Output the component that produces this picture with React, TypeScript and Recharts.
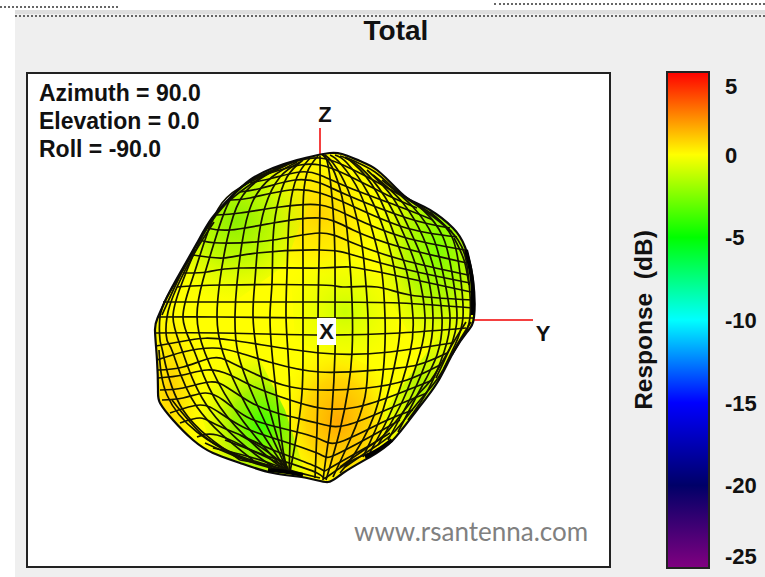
import React from 'react';
import { ScatterChart, Scatter, XAxis, YAxis, ReferenceLine, ReferenceDot, Label, BarChart, Bar } from 'recharts';

type Pair = [number, number];

// Projected view of the pattern (x right, y down)
const outline: Pair[] = [
  [318, 155], [330, 153], [342, 154], [360, 161], [377, 170], [397, 189], [410, 200], [430, 210], [453, 228], [465, 247],
  [473, 280], [474, 317], [467, 332], [453, 353], [437, 383], [417, 410], [393, 440], [370, 457], [343, 473], [328, 482],
  [307, 478], [273, 473], [240, 463], [213, 453], [193, 440], [173, 420], [160, 403], [158, 390], [157, 360], [155, 330],
  [158, 317], [167, 297], [180, 273], [197, 243], [212, 218], [230, 198], [250, 180], [273, 168], [297, 160], [318, 155],
];

const meridians: Pair[][] = [
  [[195, 250], [180, 275], [167, 297], [160, 317], [160, 340], [163, 353], [183, 410], [240, 460]],
  [[214, 222], [195, 252], [177, 287], [167, 317], [167, 340], [173, 353], [197, 407], [253, 460]],
  [[270, 172], [225, 205], [197, 247], [182, 283], [173, 317], [183, 353], [210, 410], [263, 460], [287, 470]],
  [[287, 165], [250, 182], [222, 203], [205, 240], [192, 280], [183, 318], [195, 353], [220, 407], [268, 457], [287, 470]],
  [[290, 163], [253, 180], [230, 200], [215, 240], [203, 280], [197, 315], [205, 353], [233, 407], [273, 457], [287, 470]],
  [[293, 162], [263, 177], [240, 200], [227, 240], [220, 280], [217, 315], [223, 353], [247, 407], [275, 453], [287, 470]],
  [[297, 162], [272, 177], [252, 203], [242, 243], [237, 283], [235, 315], [238, 353], [255, 400], [278, 450], [287, 470]],
  [[300, 162], [280, 177], [265, 207], [258, 243], [255, 280], [253, 315], [257, 353], [267, 400], [282, 453], [288, 470]],
  [[303, 160], [287, 177], [277, 207], [273, 240], [272, 283], [270, 315], [272, 353], [277, 400], [283, 450], [288, 470]],
  [[310, 158], [297, 177], [290, 207], [288, 240], [287, 273], [286, 315], [288, 353], [290, 400], [290, 440], [289, 472]],
  [[318, 156], [307, 173], [303, 207], [303, 260], [303, 317], [303, 353], [302, 393], [297, 433], [290, 472]],
  [[320, 156], [320, 200], [319, 260], [318, 320], [318, 380], [317, 430], [315, 478]],
  [[322, 155], [328, 165], [333, 210], [335, 260], [335, 317], [335, 353], [332, 410], [328, 443], [323, 480]],
  [[323, 155], [332, 167], [342, 197], [348, 240], [352, 300], [352, 353], [348, 390], [340, 430], [326, 480]],
  [[325, 155], [333, 163], [348, 190], [360, 233], [365, 273], [368, 317], [368, 353], [365, 397], [350, 440], [333, 477]],
  [[330, 155], [340, 163], [360, 193], [373, 233], [382, 273], [385, 317], [385, 343], [378, 403], [355, 453], [340, 473]],
  [[335, 155], [347, 163], [368, 193], [385, 233], [395, 273], [400, 317], [397, 353], [383, 410], [363, 457]],
  [[340, 156], [353, 163], [377, 193], [395, 237], [407, 273], [413, 317], [410, 353], [393, 407], [370, 452]],
  [[345, 158], [360, 167], [385, 197], [405, 237], [418, 273], [425, 317], [420, 353], [403, 400], [378, 445]],
  [[367, 170], [393, 198], [413, 237], [427, 273], [433, 317], [428, 355], [412, 395], [388, 440]],
  [[373, 175], [403, 203], [423, 237], [435, 273], [442, 317], [437, 355], [420, 390], [398, 432]],
  [[382, 180], [413, 207], [433, 237], [443, 273], [450, 317], [444, 352], [428, 390], [408, 420]],
  [[395, 190], [423, 210], [443, 237], [452, 273], [457, 317], [450, 348], [436, 378]],
  [[410, 200], [433, 215], [452, 237], [460, 273], [463, 317], [455, 345], [444, 368]],
  [[430, 212], [458, 240], [468, 273], [470, 317], [462, 338], [452, 355]],
  // dense lines along the rim
  [[300, 160], [252, 180], [214, 217], [182, 272], [162, 315]],
  [[159, 350], [167, 395], [197, 432], [240, 456], [285, 470]],
  [[172, 400], [205, 437], [245, 459], [285, 469]],
  [[205, 443], [245, 460], [283, 471]],
  [[225, 440], [255, 452], [285, 466]],
  [[240, 435], [265, 450], [288, 468]],
  [[471, 322], [454, 350], [438, 378], [416, 405], [393, 433], [370, 450], [345, 467]],
  [[466, 322], [449, 350], [431, 380], [411, 402], [387, 432], [364, 450], [340, 467]],
  [[345, 157], [375, 172], [398, 192], [428, 213], [452, 232]],
  [[469, 285], [464, 260], [454, 238]],
];

const parallels: Pair[][] = [
  [[273, 169], [297, 161], [320, 158], [343, 165], [373, 180], [400, 195]],
  [[260, 176], [280, 170], [300, 165], [320, 165], [347, 175], [387, 195], [417, 208]],
  [[250, 183], [273, 178], [300, 172], [320, 175], [350, 188], [403, 208], [433, 220]],
  [[240, 192], [262, 188], [295, 180], [320, 183], [347, 195], [407, 218], [450, 228]],
  [[230, 200], [250, 198], [290, 190], [320, 193], [350, 205], [403, 227], [457, 237]],
  [[217, 215], [240, 213], [280, 207], [320, 205], [352, 217], [403, 237], [465, 250]],
  [[207, 228], [230, 230], [273, 223], [320, 218], [353, 230], [400, 247], [467, 263]],
  [[200, 240], [220, 243], [273, 240], [320, 233], [353, 243], [403, 260], [468, 275]],
  [[193, 255], [223, 258], [257, 253], [320, 250], [353, 255], [400, 268], [470, 283]],
  [[183, 273], [207, 272], [240, 268], [320, 268], [350, 267], [393, 275], [471, 292]],
  [[177, 287], [223, 285], [320, 285], [343, 287], [377, 287], [410, 295], [473, 300]],
  [[163, 302], [220, 302], [320, 302], [400, 303], [473, 308]],
  [[158, 317], [220, 317], [320, 318], [400, 318], [473, 318]],
  [[156, 333], [220, 333], [320, 335], [400, 333], [466, 328]],
  [[156, 346], [190, 340], [230, 340], [320, 353], [390, 352], [452, 343]],
  [[157, 360], [183, 352], [213, 348], [240, 353], [273, 363], [320, 372], [377, 370], [417, 365], [447, 353]],
  [[158, 370], [183, 367], [212, 358], [230, 362], [253, 373], [283, 385], [320, 390], [367, 388], [407, 380], [440, 365]],
  [[158, 378], [183, 375], [207, 370], [230, 375], [257, 388], [290, 400], [320, 408], [357, 407], [400, 393], [433, 380]],
  [[160, 390], [183, 388], [210, 382], [228, 388], [250, 402], [277, 413], [317, 423], [347, 425], [393, 407], [427, 393]],
  [[162, 400], [183, 398], [205, 393], [223, 400], [247, 417], [277, 427], [317, 438], [340, 442], [383, 422], [413, 410]],
  [[170, 413], [200, 405], [220, 413], [243, 427], [273, 438], [317, 453], [335, 455], [377, 433], [400, 420]],
  [[180, 423], [200, 418], [217, 425], [247, 438], [273, 450], [317, 467], [330, 468], [367, 447], [390, 433]],
  [[197, 437], [217, 435], [247, 448], [273, 458], [317, 473], [327, 477], [353, 460], [380, 450]],
  [[213, 448], [250, 457], [290, 470], [320, 478]],
  [[240, 460], [270, 466], [295, 474]],
];

// Heavy dark patches on the rim
const rimShadows: Pair[][] = [
  [[365, 457], [378, 450], [392, 440]],
  [[268, 470], [287, 472], [303, 475]],
  [[466, 250], [472, 280], [473, 315]],
];

// Shaded regions of the surface, each with its gradient id
const shades: { id: string; points: Pair[] }[] = [
  { id: 'orangeTop', points: [[262, 172], [297, 160], [342, 154], [377, 170], [372, 240], [330, 275], [280, 260]] },
  { id: 'greenUpperLeft', points: [[167, 297], [180, 273], [197, 243], [212, 218], [230, 198], [250, 180], [273, 168], [297, 160], [310, 200], [285, 265], [230, 305]] },
  { id: 'greenRight', points: [[360, 161], [377, 170], [397, 189], [410, 200], [430, 210], [453, 228], [465, 247], [473, 280], [474, 317], [453, 353], [415, 345], [385, 290], [375, 225]] },
  { id: 'limeLowerRight', points: [[474, 317], [467, 332], [453, 353], [437, 383], [417, 410], [393, 440], [370, 457], [378, 420], [410, 375], [440, 335]] },
  { id: 'limeCentre', points: [[290, 265], [350, 258], [400, 290], [395, 345], [345, 365], [295, 340]] },
  { id: 'orangeLeft', points: [[167, 297], [158, 317], [155, 330], [157, 360], [158, 390], [160, 403], [173, 420], [193, 440], [208, 425], [195, 385], [205, 335], [190, 295]] },
  { id: 'orangeBottom', points: [[280, 370], [330, 345], [385, 375], [385, 440], [370, 457], [343, 473], [328, 482], [307, 478], [290, 440]] },
  { id: 'greenLowerLeft', points: [[195, 395], [220, 345], [260, 360], [285, 410], [307, 478], [273, 473], [240, 463], [213, 453]] },
];

const colorbarData = [{ name: 'Response', range: [-25, 5] }];
const colorbarTicks = [5, 0, -5, -10, -15, -20, -25];
const infoLines = ['Azimuth = 90.0', 'Elevation = 0.0', 'Roll = -90.0'];

const toPoints = (pairs: Pair[]) => pairs.map(([x, y]) => ({ x, y }));
const ARIAL = '"Liberation Sans", Arial, sans-serif';
const axisText = { fontFamily: ARIAL, fontWeight: 700, fontSize: 22, fill: '#111' };
const noMark = () => null;

function Blob({ id, stops, cx = 0.5, cy = 0.5, r = 0.6 }: { id: string; stops: [number, string, number][]; cx?: number; cy?: number; r?: number }) {
  return (
    <radialGradient id={id} cx={cx} cy={cy} r={r}>
      {stops.map(([o, c, a]) => <stop key={o} offset={o} stopColor={c} stopOpacity={a} />)}
    </radialGradient>
  );
}

function ColorbarTick({ y, payload }: any) {
  // the two end labels sit inside the bar's height
  const shift = payload.value === 5 ? 14 : payload.value === -25 ? -12 : 0;
  return (
    <text x={105} y={y + shift} dy={8} textAnchor="start" fontFamily={ARIAL} fontWeight={700} fontSize={22} fill="#111">
      {payload.value}
    </text>
  );
}

export default function App() {
  return (
    <div style={{ position: 'absolute', left: 0, top: 0, width: 765, height: 577, background: '#fff', overflow: 'hidden' }}>
      <div style={{ position: 'absolute', left: 15, top: 10, width: 750, height: 567, background: '#efefef' }} />
      <div style={{ position: 'absolute', left: 15, top: 10, width: 750, height: 4, background: '#dedede' }} />
      <div style={{ position: 'absolute', left: 0, top: 6, width: 118, borderTop: '2px dotted #666' }} />
      <div style={{ position: 'absolute', left: 494, top: 3, width: 271, borderTop: '2px dotted #666' }} />
      <div style={{ position: 'absolute', left: 15, top: 15, width: 750, borderTop: '2px dotted #666' }} />
      <div style={{ position: 'absolute', left: 26, top: 72, width: 581, height: 492, background: '#fff', border: '2px solid #222' }} />
      <div style={{ position: 'absolute', left: 296, top: 15, width: 200, textAlign: 'center', fontFamily: ARIAL, fontWeight: 700, fontSize: 28, color: '#111' }}>Total</div>

      {infoLines.map((t, i) => (
        <div key={t} style={{ position: 'absolute', left: 39, top: 80 + i * 28, fontFamily: ARIAL, fontWeight: 700, fontSize: 23, color: '#111', whiteSpace: 'nowrap' }}>{t}</div>
      ))}
      <div style={{ position: 'absolute', left: 354, top: 515, fontFamily: 'Lato, sans-serif', fontSize: 26, color: '#808080', whiteSpace: 'nowrap' }}>www.rsantenna.com</div>

      <div style={{ position: 'absolute', left: 0, top: 0 }}>
        <ScatterChart width={765} height={577} margin={{ top: 72, right: 154, bottom: 9, left: 26 }}>
          <defs>
            <Blob id="orangeTop" cx={0.5} cy={0.5} stops={[[0, '#ffd200', 1], [0.5, '#ffe600', 0.7], [1, '#ffff00', 0]]} />
            <Blob id="greenUpperLeft" cx={0.48} cy={0.42} stops={[[0, '#8cf000', 1], [0.45, '#b4f800', 0.85], [1, '#e8ff00', 0]]} />
            <Blob id="greenRight" cx={0.68} cy={0.45} stops={[[0, '#7cff00', 1], [0.45, '#a8f800', 0.85], [1, '#e0ff00', 0]]} />
            <Blob id="limeLowerRight" stops={[[0, '#a0f000', 0.9], [1, '#d0ff00', 0]]} />
            <Blob id="limeCentre" stops={[[0, '#c8ff00', 1], [1, '#f0ff00', 0]]} />
            <Blob id="orangeLeft" cx={0.3} cy={0.65} r={0.65} stops={[[0, '#ffcc00', 1], [0.6, '#ffe800', 0.6], [1, '#ffff00', 0]]} />
            <Blob id="orangeBottom" cx={0.55} cy={0.55} stops={[[0, '#ffa800', 1], [0.5, '#ffcc00', 0.85], [1, '#ffff00', 0]]} />
            <Blob id="greenLowerLeft" cx={0.6} cy={0.6} stops={[[0, '#38ff00', 1], [0.45, '#90f000', 0.85], [1, '#e0ff00', 0]]} />
          </defs>
          <XAxis type="number" dataKey="x" domain={[26, 611]} hide />
          <YAxis type="number" dataKey="y" domain={[72, 568]} reversed hide />

          <Scatter data={toPoints(outline)} shape={noMark} line={{ fill: '#ffff00', stroke: 'none' }} lineType="joint" lineJointType="natural" isAnimationActive={false} />
          {shades.map(s => (
            <Scatter key={s.id} data={toPoints(s.points)} shape={noMark} line={{ fill: `url(#${s.id})`, stroke: 'none' }} lineType="joint" isAnimationActive={false} />
          ))}
          {[...meridians, ...parallels].map((m, i) => (
            <Scatter key={i} data={toPoints(m)} shape={noMark} line={{ fill: 'none', stroke: '#141400', strokeWidth: 1.7 }} lineType="joint" lineJointType="natural" isAnimationActive={false} />
          ))}
          <Scatter data={toPoints(outline)} shape={noMark} line={{ fill: 'none', stroke: '#0a0a0a', strokeWidth: 2.2 }} lineType="joint" lineJointType="natural" isAnimationActive={false} />
          {rimShadows.map((m, i) => (
            <Scatter key={i} data={toPoints(m)} shape={noMark} line={{ fill: 'none', stroke: '#000', strokeWidth: 4 }} lineType="joint" lineJointType="natural" isAnimationActive={false} />
          ))}

          <ReferenceLine segment={[{ x: 320, y: 128 }, { x: 320, y: 155 }]} stroke="#f00000" strokeWidth={1.5} />
          <ReferenceLine segment={[{ x: 473, y: 320 }, { x: 533, y: 320 }]} stroke="#f00000" strokeWidth={1.5} />
          <ReferenceDot x={325} y={114} r={0} stroke="none">
            <Label value="Z" position="center" {...axisText} />
          </ReferenceDot>
          <ReferenceDot x={543} y={333} r={0} stroke="none">
            <Label value="Y" position="center" {...axisText} />
          </ReferenceDot>
        </ScatterChart>
      </div>

      <div style={{ position: 'absolute', left: 317, top: 318, width: 19, height: 27, background: '#fff', textAlign: 'center', fontFamily: ARIAL, fontWeight: 700, fontSize: 22, lineHeight: '28px', color: '#111' }}>X</div>

      <div style={{ position: 'absolute', left: 620, top: 0 }}>
        <BarChart width={145} height={577} data={colorbarData} margin={{ top: 72, right: 0, bottom: 9, left: 0 }} barCategoryGap={0}>
          <defs>
            <linearGradient id="dbScale" x1="0" y1="0" x2="0" y2="1">
              <stop offset="0" stopColor="#ff0000" />
              <stop offset="0.1667" stopColor="#ffff00" />
              <stop offset="0.3333" stopColor="#00ff00" />
              <stop offset="0.5" stopColor="#00ffff" />
              <stop offset="0.6667" stopColor="#0000ff" />
              <stop offset="0.8333" stopColor="#000068" />
              <stop offset="1" stopColor="#800080" />
            </linearGradient>
          </defs>
          <XAxis dataKey="name" hide />
          <YAxis yAxisId="title" orientation="left" width={47} domain={[-25, 5]} tick={false} axisLine={false} tickLine={false}>
            <Label value={'Response\u00a0\u00a0(dB)'} position="center" angle={-90} fontFamily={ARIAL} fontWeight={700} fontSize={24.5} fill="#111" />
          </YAxis>
          <YAxis yAxisId="db" orientation="right" width={56} type="number" domain={[-25, 5]} ticks={colorbarTicks} interval={0} axisLine={false} tickLine={false} tick={<ColorbarTick />} />
          <Bar yAxisId="db" dataKey="range" fill="url(#dbScale)" stroke="#222" strokeWidth={2} isAnimationActive={false} />
        </BarChart>
      </div>
    </div>
  );
}
